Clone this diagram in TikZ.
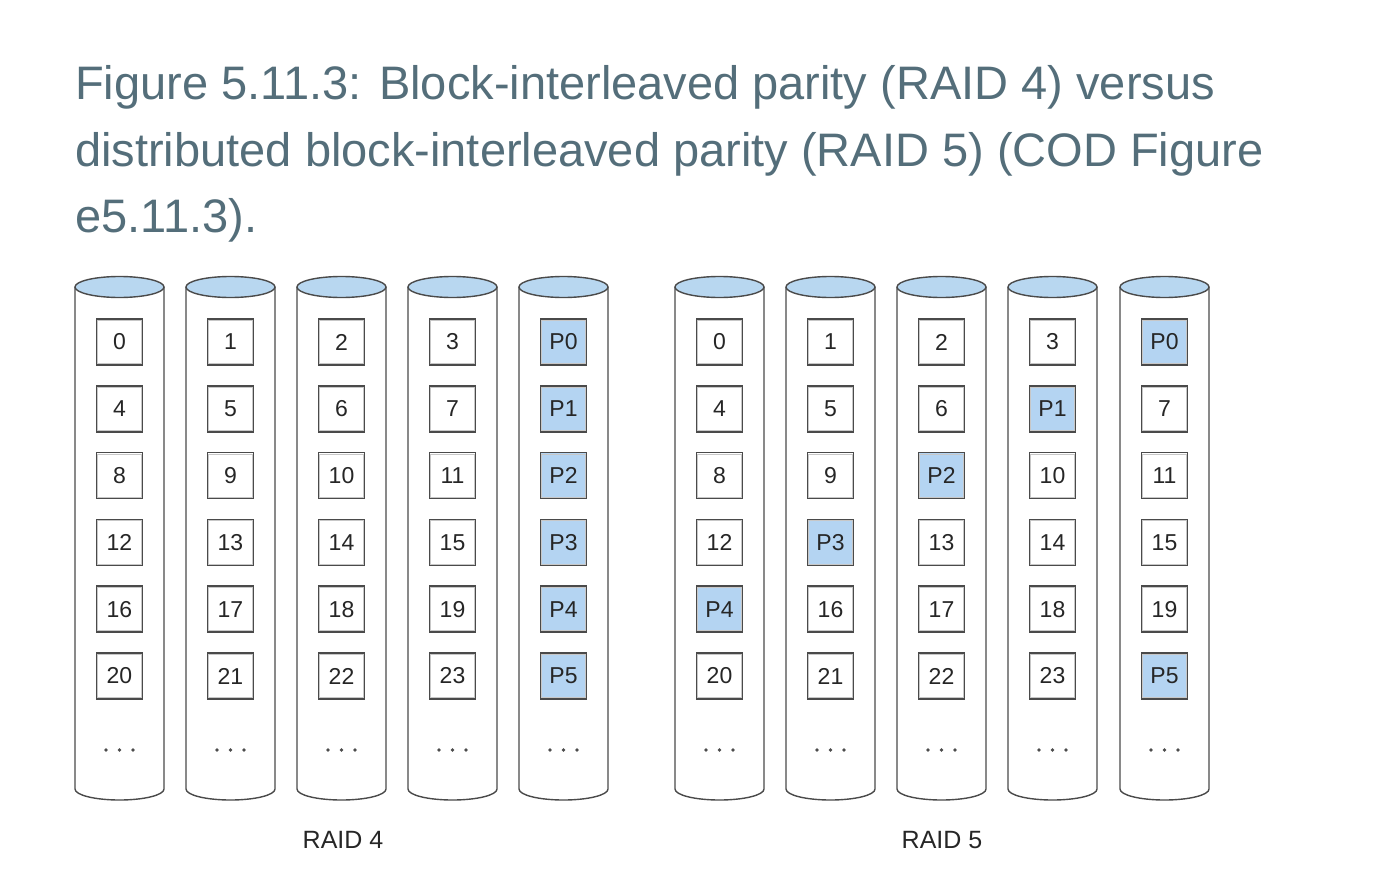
\documentclass[tikz,border=0pt]{standalone}
\usepackage{fontspec}
\setmainfont{Liberation Sans}
\definecolor{titlecol}{HTML}{546E7A}
\definecolor{diskblue}{HTML}{B8D7F0}
\definecolor{parblue}{HTML}{B4D4F2}
\definecolor{edge}{HTML}{4A4A4A}
\begin{document}
\begin{tikzpicture}[x=1pt,y=-1pt,
  title/.style={anchor=base west,inner sep=0pt,text=titlecol,font=\fontsize{47}{56}\selectfont},
  blk/.style={draw=edge,line width=1.5pt,minimum width=46pt,minimum height=46pt,inner sep=0pt,
              font=\fontsize{23}{26}\selectfont,text=black!85,
              path picture={\draw[black!22,line width=1pt]
                ([shift={(1.4pt,-1.4pt)}]path picture bounding box.north west) rectangle
                ([shift={(-1.4pt,1.4pt)}]path picture bounding box.south east);}},
  db/.style={blk,fill=white},
  pb/.style={blk,fill=parblue},
  disk/.style={draw=edge,line width=1.4pt},
  caption/.style={font=\fontsize{25}{28}\selectfont,text=black!85,inner sep=0pt}]
\useasboundingbox (0,0) rectangle (1386,880);

% heading
\node[title] (t1) at (75,100) {Figure 5.11.3: Block-interleaved parity (RAID 4) versus};
\node[title] (t2) at (75,166) {distributed block-interleaved parity (RAID 5) (COD Figure};
\node[title] (t3) at (75,232) {e5.11.3).};

% one disk: body, bottom arc, blue top, blocks and ellipsis
\foreach \cx/\blocks [count=\d] in {
  119.5/{0/db,4/db,8/db,12/db,16/db,20/db},
  230.5/{1/db,5/db,9/db,13/db,17/db,21/db},
  341.5/{2/db,6/db,10/db,14/db,18/db,22/db},
  452.5/{3/db,7/db,11/db,15/db,19/db,23/db},
  563.5/{P0/pb,P1/pb,P2/pb,P3/pb,P4/pb,P5/pb},
  719.5/{0/db,4/db,8/db,12/db,P4/pb,20/db},
  830.5/{1/db,5/db,9/db,P3/pb,16/db,21/db},
  941.5/{2/db,6/db,P2/pb,13/db,17/db,22/db},
  1052.5/{3/db,P1/pb,10/db,14/db,18/db,23/db},
  1164.5/{P0/pb,7/db,11/db,15/db,19/db,P5/pb}} {
  \draw[disk,fill=white] (\cx-44.5,287) -- (\cx-44.5,789)
     arc[start angle=180,end angle=360,x radius=44.5pt,y radius=11pt]
     -- (\cx+44.5,287);
  \draw[disk,fill=diskblue] (\cx,287) ellipse[x radius=44.5pt,y radius=10.5pt];
  \foreach \lab/\sty [count=\r] in \blocks {
    \node[\sty] (b\d-\r) at (\cx,{342+(\r-1)*66.8}) {\lab};
  }
  \foreach \dx in {-13.5,0,13.5}
    \fill[black!70] (\cx+\dx,750) circle[radius=1.8pt];
}

\node[caption] (c4) at (343,840) {RAID 4};
\node[caption] (c5) at (942,840) {RAID 5};
\end{tikzpicture}
\end{document}
